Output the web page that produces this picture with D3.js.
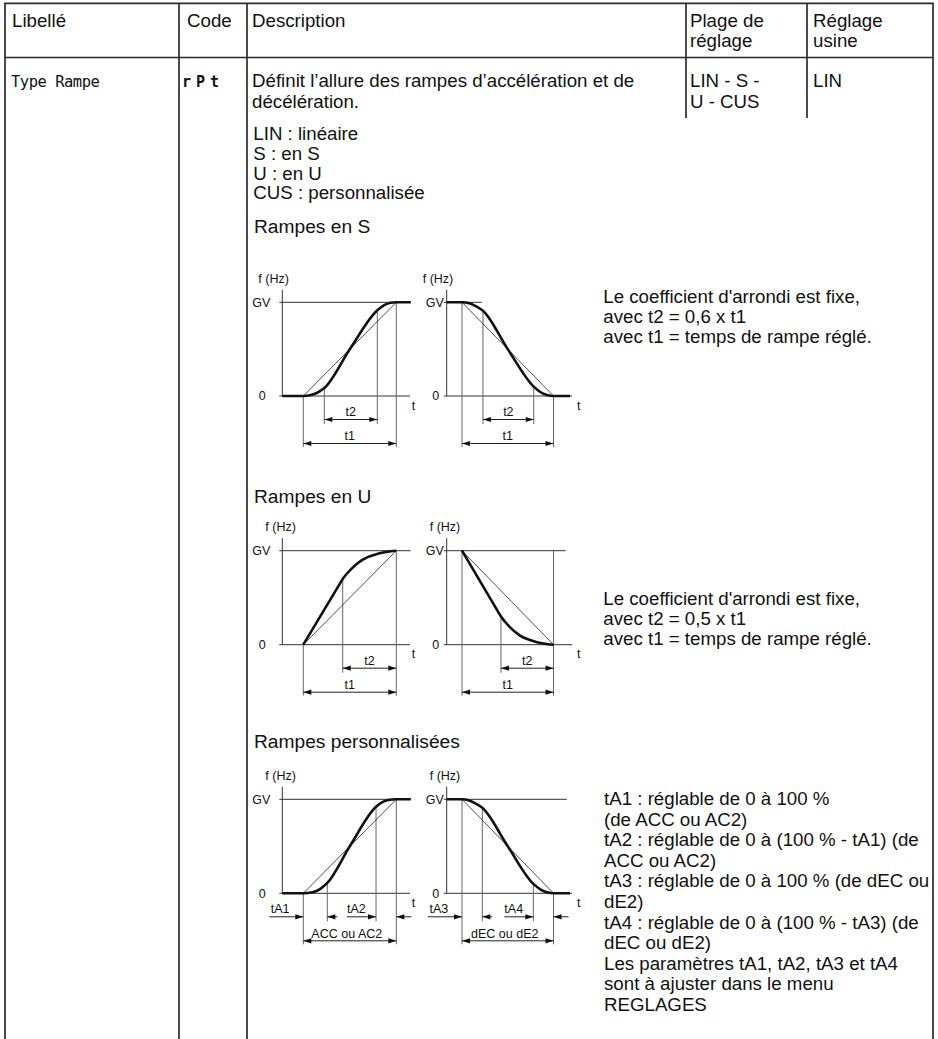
<!DOCTYPE html>
<html lang="fr">
<head>
<meta charset="utf-8">
<title>Type Rampe</title>
<script src="https://cdn.jsdelivr.net/npm/d3@7"></script>
<style>
  body { margin: 0; background: #fff; }
  svg text { font-family: "Liberation Sans", Arial, Helvetica, sans-serif; fill: #111; }
  .txt { font-size: 18.7px; }
  .title { font-size: 19.2px; }
  .small { font-size: 12.5px; }
  .lcd { font-family: "DejaVu Sans Mono", monospace; font-size: 15.5px; letter-spacing: -0.5px; }
  .code { font-family: "DejaVu Sans Mono", monospace; font-size: 15px; font-weight: bold; letter-spacing: 5px; }
  .frame { stroke: #2b2b2b; stroke-width: 1.7; }
  .axis { stroke: #333; stroke-width: 1; }
  .guide { stroke: #666; stroke-width: 1; }
  .diag { stroke: #222; stroke-width: 0.8; fill: none; }
  .ramp { stroke: #111; stroke-width: 2.6; fill: none; }
  .dim { stroke: #222; stroke-width: 1; }
</style>
</head>
<body>
<script>
// ---- texts ----
var headerLabels = [["Libellé"], ["Code"], ["Description"], ["Plage de", "réglage"], ["Réglage", "usine"]];
var rowLabel = "Type Rampe";
var rowCode = "rPt";
var descLines = ["Définit l’allure des rampes d’accélération et de", "décélération."];
var rangeLines = ["LIN - S -", "U - CUS"];
var factoryLines = ["LIN"];
var typeLines = ["LIN : linéaire", "S : en S", "U : en U", "CUS : personnalisée"];
var sectionTitles = ["Rampes en S", "Rampes en U", "Rampes personnalisées"];
var sNotes = ["Le coefficient d'arrondi est fixe,", "avec t2 = 0,6 x t1", "avec t1 = temps de rampe réglé."];
var uNotes = ["Le coefficient d'arrondi est fixe,", "avec t2 = 0,5 x t1", "avec t1 = temps de rampe réglé."];
var cusNotes = ["tA1 : réglable de 0 à 100 %", "(de ACC ou AC2)", "tA2 : réglable de 0 à (100 % - tA1) (de",
  "ACC ou AC2)", "tA3 : réglable de 0 à 100 % (de dEC ou", "dE2)", "tA4 : réglable de 0 à (100 % - tA3) (de",
  "dEC ou dE2)", "Les paramètres tA1, tA2, tA3 et tA4", "sont à ajuster dans le menu", "REGLAGES"];

// ---- ramp curves: [time as fraction of ramp, f as fraction of GV] ----
var sAccel = [[-0.226, 0], [0, 0], [0.08, 0.01], [0.15, 0.035], [0.226, 0.085], [0.5, 0.5], [0.796, 0.915], [0.87, 0.97], [0.94, 0.995], [1, 1], [1.155, 1]];
var sDecel = [[-0.167, 1], [0, 1], [0.08, 0.99], [0.15, 0.96], [0.229, 0.91], [0.5, 0.5], [0.784, 0.1], [0.86, 0.04], [0.93, 0.01], [1, 0], [1.18, 0]];
var uAccel = [[0, 0], [0.40, 0.66], [0.424, 0.70], [0.52, 0.81], [0.63, 0.90], [0.81, 0.97], [1, 1]];
var uDecel = [[0, 1], [0.40, 0.342], [0.426, 0.30], [0.52, 0.19], [0.63, 0.10], [0.81, 0.03], [1, 0]];
var cAccel = [[-0.226, 0], [0, 0], [0.1, 0.012], [0.18, 0.045], [0.258, 0.11], [0.5, 0.5], [0.782, 0.92], [0.86, 0.975], [0.93, 0.995], [1, 1], [1.155, 1]];
var cDecel = [[-0.167, 1], [0, 1], [0.07, 0.99], [0.14, 0.96], [0.222, 0.91], [0.5, 0.5], [0.78, 0.1], [0.86, 0.04], [0.93, 0.01], [1, 0], [1.18, 0]];

// marker times (fraction of ramp)
var sAccelMarks = [0.226, 0.796];
var sDecelMarks = [0.229, 0.784];
var uAccelMarks = [0.424];
var uDecelMarks = [0.426];
var cAccelMarks = [0.258, 0.782];
var cDecelMarks = [0.222, 0.78];

// dimension labels
var sDimLabels = ["t2", "t1"];
var cAccelLabels = ["tA1", "tA2", "ACC ou AC2"];
var cDecelLabels = ["tA3", "tA4", "dEC ou dE2"];
var axisLabels = ["f (Hz)", "GV", "0", "t"];

// ---- layout ----
var W = 938, H = 1039;
var colX = [5, 179, 247, 686, 807, 933];
var topY = 3.3, headY = 57.5, shortColEnd = 118;

var svg = d3.select("body").append("svg").attr("width", W).attr("height", H);

// table frame
svg.append("line").attr("class", "frame").attr("x1", colX[0] - 0.8).attr("x2", colX[5] + 0.8).attr("y1", topY).attr("y2", topY);
svg.append("line").attr("class", "frame").attr("x1", colX[0]).attr("x2", colX[5]).attr("y1", headY).attr("y2", headY);
[colX[0], colX[1], colX[2], colX[5]].forEach(function(x) {
  svg.append("line").attr("class", "frame").attr("x1", x).attr("x2", x).attr("y1", topY).attr("y2", H);
});
[colX[3], colX[4]].forEach(function(x) {
  svg.append("line").attr("class", "frame").attr("x1", x).attr("x2", x).attr("y1", topY).attr("y2", shortColEnd);
});

function lines(g, arr, x, y0, step, cls) {
  g.selectAll(null).data(arr).enter().append("text")
    .attr("class", cls).attr("x", x).attr("y", function(d, i) { return y0 + i * step; })
    .text(function(d) { return d; });
}

// header
var headX = [12, 187, 252, 690, 813];
headerLabels.forEach(function(l, i) { lines(svg, l, headX[i], 26.7, 20, "txt"); });

// row
svg.append("text").attr("class", "lcd").attr("x", 11).attr("y", 87).text(rowLabel);
svg.append("text").attr("class", "code").attr("x", 182).attr("y", 87).text(rowCode);
lines(svg, descLines, 252, 87.3, 20.5, "txt");
lines(svg, rangeLines, 690, 87.3, 20.5, "txt");
lines(svg, factoryLines, 813, 87.3, 20.5, "txt");
lines(svg, typeLines, 253.3, 140, 19.8, "txt");

// sections
var titleY = [233.3, 503.3, 748.3];
sectionTitles.forEach(function(t, i) {
  svg.append("text").attr("class", "title").attr("x", 254).attr("y", titleY[i]).text(t);
});
lines(svg, sNotes, 603.3, 303.3, 20, "txt");
lines(svg, uNotes, 603.3, 605, 20, "txt");
lines(svg, cusNotes, 604, 805, 20.6, "txt");

// ---- ramp diagrams ----
var sides = {
  A: { ts: 303.3, te: 396.3, axisX: 282.3, gvLabel: -21, zeroEnd: 410, tLab: 411.7 },
  B: { ts: 462, te: 553.5, axisX: 446.7, gvLabel: -12, zeroEnd: 572, tLab: 577 }
};
var blocks = {
  S: { gv: 302.3, zero: 396, fShift: -7 },
  U: { gv: 550.7, zero: 644.7, fShift: 0 },
  C: { gv: 799.3, zero: 893.3, fShift: 0 }
};

function valueAt(curve, u) {
  var i = d3.bisector(function(d) { return d[0]; }).left(curve, u);
  if (i <= 0) return curve[0][1];
  if (i >= curve.length) return curve[curve.length - 1][1];
  var a = curve[i - 1], b = curve[i];
  return a[1] + (b[1] - a[1]) * (u - a[0]) / (b[0] - a[0]);
}

function head(g, x, y, dir) {
  g.append("path").attr("fill", "#111")
    .attr("d", "M" + x + "," + y + "L" + (x - dir * 8) + "," + (y - 2.6) + "L" + (x - dir * 8) + "," + (y + 2.6) + "Z");
}

function dimBoth(g, x1, x2, y) {
  g.append("line").attr("class", "dim").attr("x1", x1).attr("x2", x2).attr("y1", y).attr("y2", y);
  head(g, x1, y, -1);
  head(g, x2, y, 1);
}

function dimTo(g, xFrom, xTo, y) {
  g.append("line").attr("class", "dim").attr("x1", xFrom).attr("x2", xTo).attr("y1", y).attr("y2", y);
  head(g, xTo, y, xTo > xFrom ? 1 : -1);
}

function drawPanel(p) {
  var s = sides[p.side], b = blocks[p.block];
  var g = svg.append("g");
  var x = d3.scaleLinear().domain([0, 1]).range([s.ts, s.te]);
  var y = d3.scaleLinear().domain([0, 1]).range([b.zero, b.gv]);
  var row1 = b.zero + 23.5, row2 = b.zero + 47.5, low1 = b.zero + 28, low2 = b.zero + 51;

  // axes and reference levels
  g.append("line").attr("class", "axis").attr("x1", s.axisX).attr("x2", s.axisX).attr("y1", y(1) - 12.5).attr("y2", y(0));
  g.append("line").attr("class", "axis").attr("x1", s.axisX - 3).attr("x2", p.gvEnd).attr("y1", y(1)).attr("y2", y(1));
  g.append("line").attr("class", "axis").attr("x1", s.axisX - 3).attr("x2", s.zeroEnd).attr("y1", y(0)).attr("y2", y(0));
  g.append("text").attr("class", "small").attr("x", s.axisX - 17 + b.fShift).attr("y", y(1) - 19.5).text(axisLabels[0]);
  g.append("text").attr("class", "small").attr("text-anchor", "middle").attr("x", s.axisX + s.gvLabel).attr("y", y(1) + 4.4).text(axisLabels[1]);
  g.append("text").attr("class", "small").attr("text-anchor", "middle").attr("x", s.axisX + s.gvLabel + 1).attr("y", y(0) + 4.4).text(axisLabels[2]);
  g.append("text").attr("class", "small").attr("x", s.tLab).attr("y", y(0) + 13.5).text(axisLabels[3]);

  // guide verticals
  var f0 = valueAt(p.curve, 0), f1 = valueAt(p.curve, 1);
  g.append("line").attr("class", "guide").attr("x1", x(0)).attr("x2", x(0)).attr("y1", y(f0)).attr("y2", low2);
  g.append("line").attr("class", "guide").attr("x1", x(1)).attr("x2", x(1)).attr("y1", y(p.endFromGV ? 1 : f1)).attr("y2", low2);
  p.marks.forEach(function(m) {
    g.append("line").attr("class", "guide").attr("x1", x(m)).attr("x2", x(m)).attr("y1", y(valueAt(p.curve, m))).attr("y2", low1);
  });

  // linear reference ramp and actual ramp
  g.append("line").attr("class", "diag").attr("x1", x(0)).attr("x2", x(1)).attr("y1", y(f0)).attr("y2", y(f1));
  var line = d3.line().x(function(d) { return x(d[0]); }).y(function(d) { return y(d[1]); }).curve(d3.curveMonotoneX);
  g.append("path").datum(p.curve).attr("class", "ramp").attr("d", line);

  // dimensions
  if (p.block !== "C") {
    var inner = p.marks.length > 1 ? [p.marks[0], p.marks[1]] : [p.marks[0], 1];
    dimBoth(g, x(inner[0]), x(inner[1]), row1);
    g.append("text").attr("class", "small").attr("text-anchor", "middle").attr("x", (x(inner[0]) + x(inner[1])) / 2).attr("y", b.zero + 20).text(sDimLabels[0]);
    dimBoth(g, x(0), x(1), row2);
    g.append("text").attr("class", "small").attr("text-anchor", "middle").attr("x", (x(0) + x(1)) / 2).attr("y", b.zero + 44).text(sDimLabels[1]);
  } else {
    var pre = 34, post = 10, pre2 = 29;
    dimTo(g, x(0) - pre, x(0), row1);
    dimTo(g, x(p.marks[0]) + post, x(p.marks[0]), row1);
    dimTo(g, x(p.marks[1]) - pre2, x(p.marks[1]), row1);
    dimTo(g, x(1) + 15, x(1), row1);
    g.append("text").attr("class", "small").attr("x", x(0) - pre + 1.5).attr("y", b.zero + 20).text(p.labels[0]);
    g.append("text").attr("class", "small").attr("x", x(p.marks[1]) - pre2).attr("y", b.zero + 20).text(p.labels[1]);
    dimBoth(g, x(0), x(1), row2);
    g.append("text").attr("class", "small").attr("text-anchor", "middle").attr("x", (x(0) + x(1)) / 2 - 3).attr("y", b.zero + 44.4).text(p.labels[2]);
  }
}

drawPanel({ block: "S", side: "A", curve: sAccel, marks: sAccelMarks, gvEnd: 410.7 });
drawPanel({ block: "S", side: "B", curve: sDecel, marks: sDecelMarks, gvEnd: 481.7 });
drawPanel({ block: "U", side: "A", curve: uAccel, marks: uAccelMarks, gvEnd: 410.7 });
drawPanel({ block: "U", side: "B", curve: uDecel, marks: uDecelMarks, gvEnd: 565.7, endFromGV: true });
drawPanel({ block: "C", side: "A", curve: cAccel, marks: cAccelMarks, gvEnd: 410.7, labels: cAccelLabels });
drawPanel({ block: "C", side: "B", curve: cDecel, marks: cDecelMarks, gvEnd: 566.7, labels: cDecelLabels });
</script>
</body>
</html>
